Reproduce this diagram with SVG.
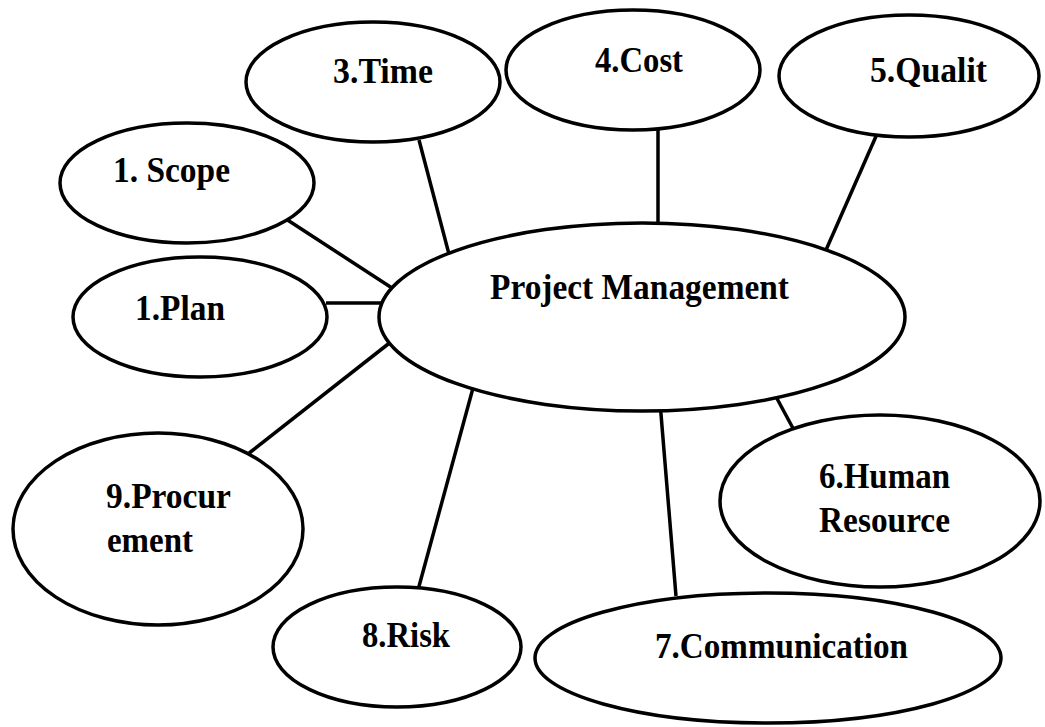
<svg xmlns="http://www.w3.org/2000/svg" width="1045" height="727" viewBox="0 0 1045 727">
<style>
.n{fill:#fff;stroke:#000;stroke-width:3.5}
.c line{stroke:#000;stroke-width:3.5}
text{font-family:"Liberation Serif","Times New Roman",serif;font-weight:bold;font-size:35px;fill:#000}
</style>
<rect width="1045" height="727" fill="#fff"/>
<g id="connectors" class="c">
<line x1="419" y1="140" x2="450" y2="258"/>
<line x1="658" y1="128" x2="658" y2="228"/>
<line x1="877" y1="134" x2="826" y2="250"/>
<line x1="286" y1="219" x2="392" y2="288"/>
<line x1="326" y1="303" x2="384" y2="303"/>
<line x1="248" y1="454" x2="392" y2="341"/>
<line x1="418" y1="590" x2="473" y2="388"/>
<line x1="676" y1="596" x2="660" y2="402"/>
<line x1="774" y1="393" x2="795" y2="432"/>
</g>
<g id="pm"><ellipse class="n" cx="642" cy="317" rx="263" ry="94"/><text x="490" y="299" textLength="299" lengthAdjust="spacingAndGlyphs">Project Management</text></g>
<g id="time"><ellipse class="n" cx="373" cy="82" rx="127" ry="60"/><text x="333" y="83" textLength="100" lengthAdjust="spacingAndGlyphs">3.Time</text></g>
<g id="cost"><ellipse class="n" cx="633" cy="70" rx="127" ry="60"/><text x="595" y="72" textLength="88" lengthAdjust="spacingAndGlyphs">4.Cost</text></g>
<g id="quality"><ellipse class="n" cx="909" cy="76" rx="130" ry="61"/><text x="870" y="82" textLength="117" lengthAdjust="spacingAndGlyphs">5.Qualit</text></g>
<g id="scope"><ellipse class="n" cx="187" cy="183" rx="127" ry="60"/><text x="113" y="182" textLength="117" lengthAdjust="spacingAndGlyphs">1. Scope</text></g>
<g id="plan"><ellipse class="n" cx="200" cy="317" rx="127" ry="60"/><text x="135" y="320" textLength="90" lengthAdjust="spacingAndGlyphs">1.Plan</text></g>
<g id="procurement"><ellipse class="n" cx="158" cy="529" rx="145" ry="96"/><text x="106" y="508" textLength="125" lengthAdjust="spacingAndGlyphs">9.Procur</text><text x="107" y="552" textLength="86" lengthAdjust="spacingAndGlyphs">ement</text></g>
<g id="risk"><ellipse class="n" cx="397" cy="647" rx="124" ry="60"/><text x="362" y="647" textLength="88" lengthAdjust="spacingAndGlyphs">8.Risk</text></g>
<g id="communication"><ellipse class="n" cx="768" cy="658" rx="233" ry="65"/><text x="655" y="658" textLength="253" lengthAdjust="spacingAndGlyphs">7.Communication</text></g>
<g id="human"><ellipse class="n" cx="880" cy="501" rx="160" ry="86"/><text x="819" y="488" textLength="131" lengthAdjust="spacingAndGlyphs">6.Human</text><text x="819" y="532" textLength="131" lengthAdjust="spacingAndGlyphs">Resource</text></g>
</svg>
